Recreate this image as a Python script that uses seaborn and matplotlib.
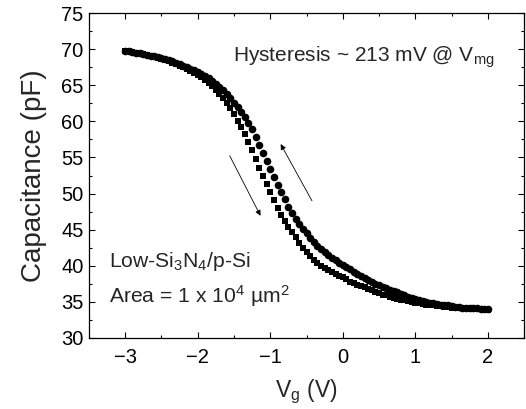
import matplotlib
matplotlib.use('Agg')
import matplotlib.pyplot as plt
from matplotlib.ticker import MultipleLocator
import seaborn as sns
import numpy as np
import pandas as pd

# gate voltage sweep, 0.05 V steps from -3 V to 2 V
vg = np.round(np.arange(-3.0, 2.0001, 0.05), 2)

# sweep shown with squares (lower branch)
cap_squares = [
    69.8, 69.7, 69.6, 69.5, 69.4, 69.3, 69.2, 69.1, 68.9, 68.8,
    68.7, 68.5, 68.3, 68.1, 67.9, 67.7, 67.5, 67.3, 67.0, 66.7,
    66.4, 66.1, 65.7, 65.3, 64.9, 64.4, 63.8, 63.2, 62.5, 61.8,
    61.0, 60.1, 59.2, 58.2, 57.1, 56.0, 54.8, 53.6, 52.5, 51.3,
    50.2, 49.1, 48.0, 47.1, 46.2, 45.4, 44.7, 44.0, 43.2, 42.5,
    41.9, 41.3, 40.8, 40.4, 40.0, 39.7, 39.4, 39.1, 38.9, 38.6,
    38.4, 38.1, 37.8, 37.6, 37.4, 37.2, 37.0, 36.8, 36.6, 36.4,
    36.2, 36.0, 35.9, 35.7, 35.6, 35.4, 35.3, 35.2, 35.1, 35.0,
    34.9, 34.8, 34.7, 34.6, 34.5, 34.5, 34.4, 34.4, 34.3, 34.3,
    34.2, 34.2, 34.1, 34.1, 34.1, 34.0, 34.0, 34.0, 34.0, 33.9,
    33.9,
]

# sweep shown with circles (upper branch)
cap_circles = [
    69.8, 69.7, 69.6, 69.5, 69.4, 69.3, 69.2, 69.1, 69.0, 68.9,
    68.8, 68.6, 68.5, 68.3, 68.1, 67.9, 67.7, 67.5, 67.3, 67.1,
    66.9, 66.6, 66.3, 66.0, 65.6, 65.2, 64.8, 64.3, 63.8, 63.2,
    62.6, 62.0, 61.3, 60.6, 59.8, 58.9, 57.8, 56.7, 55.6, 54.5,
    53.4, 52.3, 51.2, 50.2, 49.2, 48.2, 47.3, 46.5, 45.8, 45.1,
    44.5, 43.9, 43.3, 42.8, 42.3, 41.9, 41.5, 41.1, 40.8, 40.4,
    40.1, 39.8, 39.5, 39.2, 38.9, 38.6, 38.3, 38.0, 37.8, 37.5,
    37.3, 37.1, 36.9, 36.7, 36.5, 36.3, 36.1, 35.9, 35.7, 35.6,
    35.4, 35.3, 35.1, 35.0, 34.9, 34.8, 34.7, 34.6, 34.5, 34.5,
    34.4, 34.3, 34.3, 34.2, 34.2, 34.1, 34.1, 34.1, 34.0, 34.0,
    34.0,
]

df = pd.DataFrame({'Vg': vg, 'sq': cap_squares, 'ci': cap_circles})

sns.set_style('ticks')
plt.rcParams['font.family'] = ['Liberation Sans', 'DejaVu Sans']
plt.rcParams['mathtext.fontset'] = 'custom'
plt.rcParams['mathtext.rm'] = 'Liberation Sans'
plt.rcParams['mathtext.it'] = 'Liberation Sans'
plt.rcParams['mathtext.bf'] = 'Liberation Sans'

fig = plt.figure(figsize=(5.26, 4.09), dpi=100)
ax = fig.add_axes([0.1692, 0.1736, 0.8270, 0.7946])

sns.scatterplot(data=df, x='Vg', y='sq', marker='s', color='black',
                s=22, linewidth=0, ax=ax)
sns.scatterplot(data=df, x='Vg', y='ci', marker='o', color='black',
                s=30, linewidth=0, ax=ax)

ax.set_xlim(-3.5, 2.5)
ax.set_ylim(30, 75)
ax.xaxis.set_major_locator(MultipleLocator(1))
ax.xaxis.set_minor_locator(MultipleLocator(0.5))
ax.yaxis.set_major_locator(MultipleLocator(5))
ax.yaxis.set_minor_locator(MultipleLocator(2.5))
ax.tick_params(which='both', direction='in', top=True, right=True,
               width=0.8, colors='black', labelsize=14.5)
ax.tick_params(which='major', length=4.5)
ax.tick_params(which='minor', length=2.5)
ax.tick_params(axis='x', which='major', pad=7)
ax.tick_params(axis='y', which='major', pad=4)
for sp in ax.spines.values():
    sp.set_visible(True)
    sp.set_linewidth(0.9)
    sp.set_color('black')

ax.set_xlabel('V$_{g}$ (V)', fontsize=16.5, labelpad=8)
ax.set_ylabel('Capacitance (pF)', fontsize=20, labelpad=10)

ax.text(-1.51, 68.2, 'Hysteresis ~ 213 mV @ V$_{mg}$', fontsize=15)
ax.text(-3.22, 39.8, 'Low-Si$_{3}$N$_{4}$/p-Si', fontsize=15.2)
ax.text(-3.22, 34.85, 'Area = 1 x 10$^{4}$ µm$^{2}$', fontsize=15.2)

# sweep direction arrows
ax.annotate('', xy=(-1.117, 46.58), xytext=(-1.577, 55.58),
            arrowprops=dict(arrowstyle='-|>', color='black', lw=0.6,
                            mutation_scale=8))
ax.annotate('', xy=(-0.875, 57.19), xytext=(-0.406, 48.66),
            arrowprops=dict(arrowstyle='-|>', color='black', lw=0.6,
                            mutation_scale=8))

fig.savefig('out.png', dpi=100)
plt.close(fig)
